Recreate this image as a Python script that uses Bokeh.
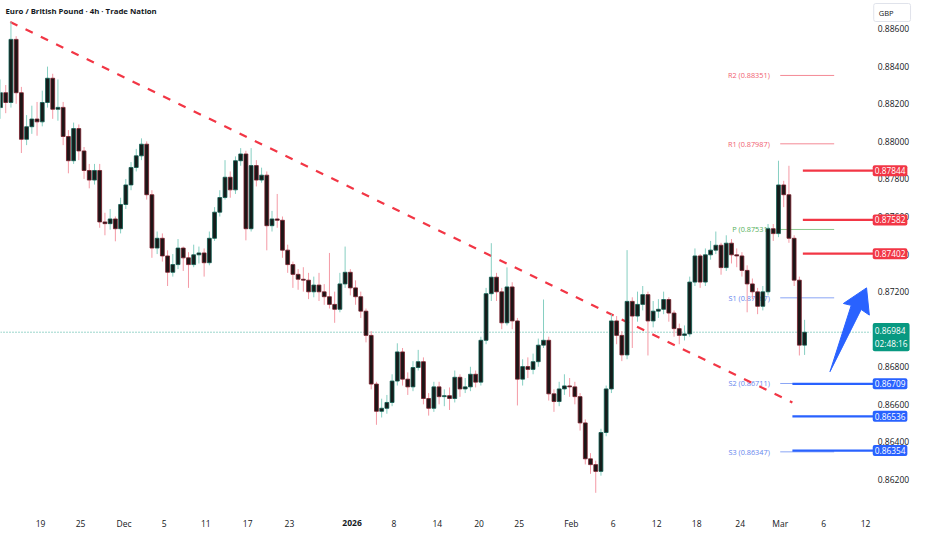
from bokeh.plotting import figure
from bokeh.models import Range1d, FixedTicker, NumeralTickFormatter, Label, ColumnDataSource
from bokeh.core.properties import value
from bokeh.embed import file_html
from bokeh.resources import INLINE

FONT = "Open Sans"

# ---------------- data (EUR/GBP, one candle = 3 x 4h bars) ----------------
first_open = 0.88180
bars_per_candle = 3

close = [
    0.88259, 0.88207, 0.88543, 0.88259, 0.88011, 0.88078, 0.88119, 0.88104, 0.88207, 0.88336,
    0.88171, 0.88181, 0.88026, 0.87897, 0.88068, 0.87949, 0.87845, 0.87794, 0.87845, 0.87571,
    0.87562, 0.87587, 0.87535, 0.87664, 0.87768, 0.87861, 0.87923, 0.87985, 0.87716, 0.87432,
    0.87484, 0.87390, 0.87303, 0.87344, 0.87432, 0.87380, 0.87344, 0.87396, 0.87406, 0.87354,
    0.87484, 0.87623, 0.87701, 0.87809, 0.87742, 0.87897, 0.87933, 0.87535, 0.87871, 0.87794,
    0.87820, 0.87551, 0.87587, 0.87580, 0.87421, 0.87344, 0.87292, 0.87266, 0.87261, 0.87199,
    0.87235, 0.87199, 0.87173, 0.87132, 0.87106, 0.87241, 0.87303, 0.87220, 0.87173, 0.87096,
    0.86967, 0.86708, 0.86563, 0.86579, 0.86610, 0.86724, 0.86879, 0.86734, 0.86693, 0.86796,
    0.86827, 0.86631, 0.86579, 0.86693, 0.86641, 0.86646, 0.86631, 0.86744, 0.86682, 0.86693,
    0.86760, 0.86718, 0.86941, 0.87189, 0.87277, 0.87199, 0.87034, 0.87225, 0.87044, 0.86734,
    0.86801, 0.86786, 0.86827, 0.86915, 0.86941, 0.86656, 0.86615, 0.86682, 0.86698, 0.86693,
    0.86641, 0.86501, 0.86310, 0.86279, 0.86243, 0.86450, 0.86682, 0.87044, 0.86967, 0.86863,
    0.87148, 0.87070, 0.87132, 0.87184, 0.87044, 0.87096, 0.87106, 0.87158, 0.87086, 0.87003,
    0.86967, 0.86975, 0.87251, 0.87390, 0.87251, 0.87396, 0.87421, 0.87447, 0.87328, 0.87458,
    0.87396, 0.87390, 0.87313, 0.87241, 0.87199, 0.87122, 0.87199, 0.87535, 0.87509, 0.87768,
    0.87716, 0.87484, 0.87261, 0.86915, 0.86984,
]
high = [
    0.88330, 0.88300, 0.88636, 0.88560, 0.88290, 0.88140, 0.88190, 0.88210, 0.88270, 0.88398,
    0.88360, 0.88330, 0.88210, 0.88060, 0.88100, 0.88090, 0.87970, 0.87880, 0.87880, 0.87880,
    0.87620, 0.87640, 0.87600, 0.87700, 0.87800, 0.87890, 0.87960, 0.88016, 0.88000, 0.87740,
    0.87520, 0.87510, 0.87420, 0.87400, 0.87480, 0.87440, 0.87410, 0.87450, 0.87440, 0.87430,
    0.87520, 0.87650, 0.87740, 0.87900, 0.87840, 0.87920, 0.87964, 0.87950, 0.87964, 0.87900,
    0.87860, 0.87840, 0.87630, 0.87720, 0.87600, 0.87450, 0.87360, 0.87320, 0.87330, 0.87300,
    0.87280, 0.87300, 0.87240, 0.87406, 0.87200, 0.87300, 0.87440, 0.87320, 0.87260, 0.87200,
    0.87110, 0.86990, 0.86720, 0.86630, 0.86650, 0.86760, 0.86925, 0.86900, 0.86770, 0.86830,
    0.86890, 0.86850, 0.86660, 0.86720, 0.86720, 0.86680, 0.86690, 0.86780, 0.86760, 0.86740,
    0.86800, 0.86780, 0.86960, 0.87220, 0.87458, 0.87300, 0.87220, 0.87329, 0.87250, 0.87060,
    0.86840, 0.86850, 0.86870, 0.86950, 0.87158, 0.86960, 0.86680, 0.86720, 0.86760, 0.86740,
    0.86720, 0.86660, 0.86520, 0.86340, 0.86300, 0.86470, 0.86700, 0.87080, 0.87070, 0.86990,
    0.87421, 0.87170, 0.87200, 0.87230, 0.87200, 0.87150, 0.87160, 0.87200, 0.87170, 0.87100,
    0.87030, 0.87020, 0.87280, 0.87430, 0.87400, 0.87430, 0.87470, 0.87520, 0.87460, 0.87500,
    0.87480, 0.87430, 0.87410, 0.87340, 0.87270, 0.87220, 0.87230, 0.87560, 0.87560, 0.87897,
    0.87790, 0.87870, 0.87500, 0.87280, 0.87050,
]
low = [
    0.88120, 0.88150, 0.88180, 0.88200, 0.87938, 0.87980, 0.88040, 0.88030, 0.88080, 0.88180,
    0.88120, 0.88110, 0.87980, 0.87830, 0.87880, 0.87900, 0.87800, 0.87750, 0.87770, 0.87540,
    0.87500, 0.87530, 0.87468, 0.87510, 0.87640, 0.87740, 0.87840, 0.87900, 0.87690, 0.87380,
    0.87400, 0.87360, 0.87230, 0.87280, 0.87320, 0.87310, 0.87220, 0.87330, 0.87350, 0.87280,
    0.87340, 0.87470, 0.87600, 0.87690, 0.87700, 0.87720, 0.87870, 0.87473, 0.87520, 0.87760,
    0.87780, 0.87420, 0.87520, 0.87540, 0.87380, 0.87300, 0.87220, 0.87210, 0.87200, 0.87160,
    0.87170, 0.87150, 0.87130, 0.87110, 0.87034, 0.87090, 0.87220, 0.87180, 0.87130, 0.87060,
    0.86930, 0.86680, 0.86491, 0.86530, 0.86550, 0.86590, 0.86700, 0.86700, 0.86650, 0.86670,
    0.86780, 0.86600, 0.86540, 0.86560, 0.86600, 0.86590, 0.86570, 0.86610, 0.86640, 0.86660,
    0.86670, 0.86690, 0.86700, 0.86920, 0.87150, 0.87150, 0.87000, 0.87020, 0.87000, 0.86594,
    0.86700, 0.86740, 0.86760, 0.86800, 0.86900, 0.86620, 0.86560, 0.86590, 0.86650, 0.86640,
    0.86600, 0.86460, 0.86280, 0.86230, 0.86129, 0.86220, 0.86430, 0.86660, 0.86920, 0.86830,
    0.86840, 0.86900, 0.87040, 0.87100, 0.86860, 0.87010, 0.87060, 0.87080, 0.87040, 0.86960,
    0.86920, 0.86940, 0.86960, 0.87230, 0.87220, 0.87230, 0.87370, 0.87400, 0.87290, 0.87310,
    0.87350, 0.87330, 0.87280, 0.87090, 0.87160, 0.87080, 0.87100, 0.87180, 0.87470, 0.87490,
    0.87650, 0.87460, 0.87230, 0.86860, 0.86863,
]

time_tick_pos = [23, 46, 71, 94, 118, 142, 166, 202, 226, 251, 275, 298, 328, 352, 377, 400, 425, 448, 473, 497]
time_tick_labels = ["19", "25", "Dec", "5", "11", "17", "23", "2026", "8", "14", "20", "25",
                    "Feb", "6", "12", "18", "24", "Mar", "6", "12"]
year_label = "2026"

price_ticks = [0.862, 0.864, 0.866, 0.868, 0.870, 0.872, 0.874, 0.876, 0.878, 0.880, 0.882, 0.884, 0.886]

pivot_names = ["R2", "R1", "P", "S1", "S2", "S3"]
pivot_values = [0.88351, 0.87987, 0.87531, 0.87167, 0.86711, 0.86347]
pivot_kind = ["R", "R", "P", "S", "S", "S"]

resist_levels = [0.87844, 0.87582, 0.87402]
support_levels = [0.86709, 0.86536, 0.86354]
last_price = 0.86984
countdown = "02:48:16"

trend_bar = [5.6, 455.0]
trend_price = [0.88636, 0.86610]

arrow_bar = [476.6, 488.8, 484.3, 497.6, 499.2, 494.5]
arrow_price = [0.86774, 0.87127, 0.87137, 0.87220, 0.87075, 0.87105]

# ---------------- layout / style constants ----------------
X_AXIS = 500          # where the price scale begins (bar units)
X_MAX = 526.3         # right edge of the canvas (bar units)
Y_TOP = 0.88750       # top edge of the canvas
Y_BOTTOM = 0.85907    # bottom edge of the canvas
Y_AXIS = 0.86052      # where the time scale begins
PIVOT_TEXT_END = 442
PIVOT_LINE = (448, 479)
RESIST_START = 461
SUPPORT_START = 455

RED = "#f23645"
BLUE = "#2962ff"
GREEN = "#089981"
TXT = "#131722"
pivot_text_col = {"R": "#f0606f", "P": "#55b05b", "S": "#6585ee"}
pivot_line_col = {"R": "#f48a95", "P": "#8bc98e", "S": "#8aa5f5"}

# ---------------- derived candle table ----------------
opens = [first_open] + close[:-1]
xs = [i * bars_per_candle for i in range(len(close))]
up = [c >= o for o, c in zip(opens, close)]
top = [max(o, c) for o, c in zip(opens, close)]
bot = [min(o, c) for o, c in zip(opens, close)]
hi = [max(h, t) for h, t in zip(high, top)]
lo = [min(l, b) for l, b in zip(low, bot)]
src = ColumnDataSource(dict(
    x=xs, top=top, bot=bot, hi=hi, lo=lo,
    wick=["#86cfc2" if u else "#f49aa5" for u in up],
    body_line=["#0d5a4e" if u else "#761c28" for u in up],
    body_fill=["#151c1b" if u else "#1d1516" for u in up],
))

p = figure(width=916, height=534, x_range=Range1d(0, X_MAX), y_range=Range1d(Y_BOTTOM, Y_TOP),
           output_backend="svg", toolbar_location=None, y_axis_location="right",
           min_border_left=0, min_border_top=0, min_border_right=0, min_border_bottom=0)
p.outline_line_color = None
p.grid.visible = False
p.background_fill_color = "white"
p.border_fill_color = "white"

yax = p.yaxis[0]
yax.fixed_location = X_AXIS
yax.ticker = FixedTicker(ticks=price_ticks)
yax.formatter = NumeralTickFormatter(format="0.00000")
yax.axis_line_color = None
yax.major_tick_line_color = None
yax.minor_tick_line_color = None
yax.major_tick_out = 0
yax.major_tick_in = 0
yax.major_label_text_font = FONT
yax.major_label_text_font_size = "8.5px"
yax.major_label_text_color = TXT
yax.major_label_standoff = 7

xax = p.xaxis[0]
xax.fixed_location = Y_AXIS
xax.ticker = FixedTicker(ticks=time_tick_pos)
xax.major_label_overrides = {pos: ("" if lab == year_label else lab)
                             for pos, lab in zip(time_tick_pos, time_tick_labels)}
xax.axis_line_color = None
xax.major_tick_line_color = None
xax.minor_tick_line_color = None
xax.major_tick_out = 0
xax.major_tick_in = 0
xax.major_label_text_font = FONT
xax.major_label_text_font_size = "8.5px"
xax.major_label_text_color = TXT
xax.major_label_standoff = 11

# pivot levels (behind the candles)
for name, val, kind in zip(pivot_names, pivot_values, pivot_kind):
    p.line([PIVOT_LINE[0], PIVOT_LINE[1]], [val, val], color=pivot_line_col[kind], line_width=1)
p.text(x=[PIVOT_TEXT_END] * len(pivot_names), y=pivot_values,
       text=[f"{n} ({v:.5f})" for n, v in zip(pivot_names, pivot_values)],
       text_color=[pivot_text_col[k] for k in pivot_kind],
       text_font=value(FONT), text_font_size="7.3px", text_align="right", text_baseline="middle")

# current price dotted line
p.line([0, X_AXIS], [last_price, last_price], color=GREEN, line_dash="1 2", line_width=1, line_alpha=0.8)

# trend line (under the candles)
p.line(trend_bar, trend_price, color=RED, line_width=2.2, line_dash="8 9")

# candles
p.segment(x0="x", y0="lo", x1="x", y1="hi", source=src, line_color="wick", line_width=1)
p.vbar(x="x", width=2.2, top="top", bottom="bot", source=src,
       fill_color="body_fill", line_color="body_line", line_width=0.8)

# support / resistance levels
for v in resist_levels:
    p.line([RESIST_START, X_AXIS + 2], [v, v], color=RED, line_width=2.2)
for v in support_levels:
    p.line([SUPPORT_START, X_AXIS + 2], [v, v], color=BLUE, line_width=2.2)

# arrow
p.patch(arrow_bar, arrow_price, color=BLUE)

# price-scale boxes
for v in resist_levels:
    p.add_layout(Label(x=X_AXIS, y=v, x_offset=2, text=f"{v:.5f}", text_color="white",
                       text_font=FONT, text_font_size="8.3px", text_baseline="middle",
                       background_fill_color=RED, padding=2, border_radius=2))
for v in support_levels:
    p.add_layout(Label(x=X_AXIS, y=v, x_offset=2, text=f"{v:.5f}", text_color="white",
                       text_font=FONT, text_font_size="8.3px", text_baseline="middle",
                       background_fill_color=BLUE, padding=2, border_radius=2))
p.add_layout(Label(x=X_AXIS, y=last_price, x_offset=2, y_offset=-5,
                   text=f"{last_price:.5f}\n{countdown}", text_color="white",
                   text_font=FONT, text_font_size="8.3px", text_baseline="middle",
                   background_fill_color=GREEN, padding=2, border_radius=2))
p.add_layout(Label(x=X_AXIS, y=Y_TOP, x_offset=3, y_offset=-3, text="GBP", text_color=TXT,
                   text_font=FONT, text_font_size="7.5px", text_baseline="top",
                   background_fill_color="white", border_line_color="#e0e3eb",
                   padding=dict(left=5, right=17, top=4, bottom=4), border_radius=2))

# title
p.add_layout(Label(x=0, y=Y_TOP, x_offset=5, y_offset=-5, text="Euro / British Pound · 4h · Trade Nation",
                   text_color=TXT, text_font=FONT, text_font_size="7.8px", text_font_style="bold",
                   text_baseline="top"))

# bold year label on the time axis
p.add_layout(Label(x=time_tick_pos[time_tick_labels.index(year_label)], y=Y_AXIS, y_offset=-16,
                   text=year_label, text_color=TXT, text_font=FONT, text_font_size="8.5px",
                   text_font_style="bold", text_align="center", text_baseline="middle"))

open("out.html", "w").write(file_html(p, INLINE))
